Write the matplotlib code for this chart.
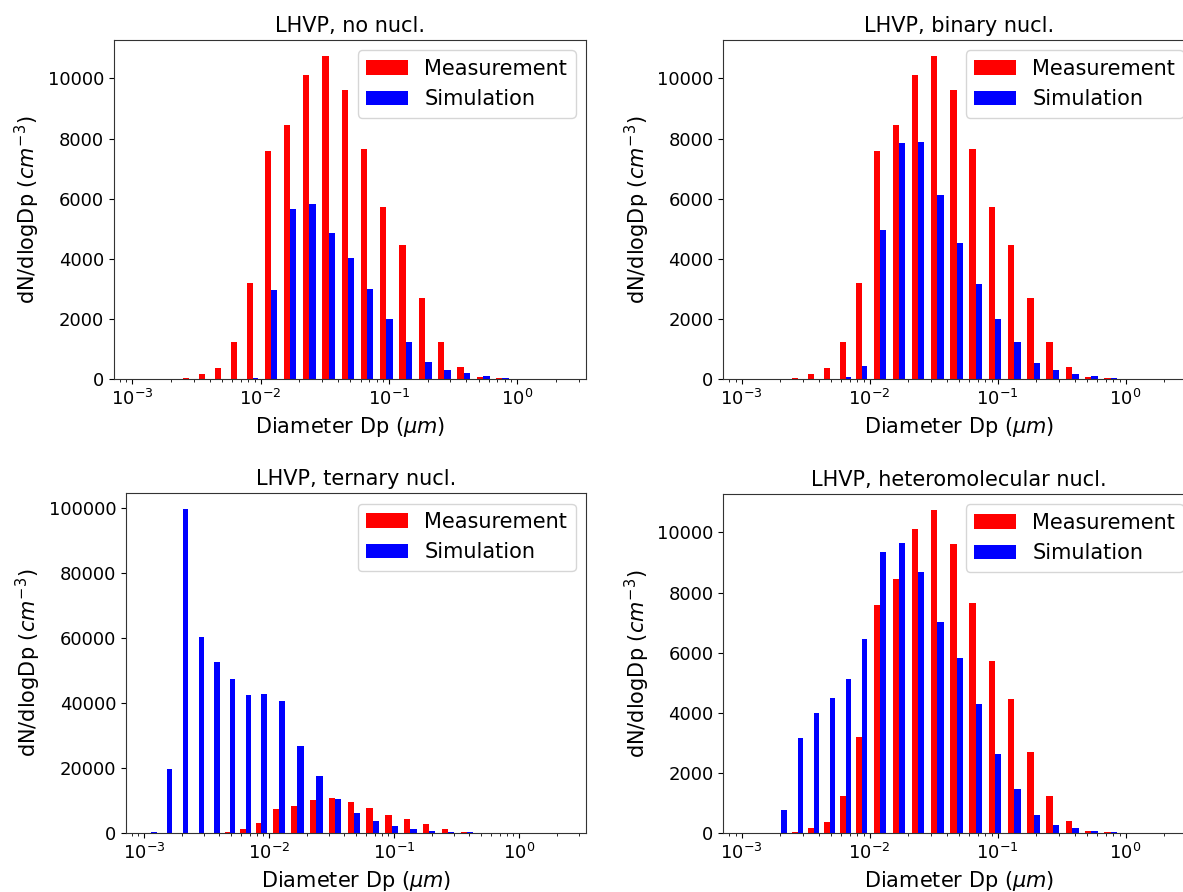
import numpy as np
import matplotlib
matplotlib.use("Agg")
import matplotlib.pyplot as plt

# Bin diameters (um): boundary between measurement (red) and simulation (blue) bar
diameters = [0.00115, 0.00153, 0.00204, 0.00274, 0.00366, 0.00489, 0.00650, 0.00869,
             0.0121, 0.0169, 0.0239, 0.0338, 0.0479, 0.0675, 0.0955, 0.135, 0.191,
             0.270, 0.383, 0.541, 0.766, 1.08, 1.53, 2.16]

measurement = [0, 0, 0, 30, 165, 387, 1227, 3193, 7602, 8442, 10110, 10740, 9602,
               7669, 5724, 4475, 2718, 1249, 409, 88, 33, 0, 0, 0]

sim_no_nucl = [0, 0, 0, 0, 0, 0, 0, 30, 2972, 5669, 5812, 4851, 4033, 3006, 2000,
               1227, 575, 320, 199, 99, 44, 0, 0, 0]
sim_binary = [0, 0, 0, 0, 0, 0, 66, 442, 4950, 7845, 7890, 6133, 4541, 3160, 2000,
              1227, 541, 320, 188, 99, 33, 0, 0, 0]
sim_ternary = [513, 19692, 99590, 60410, 52820, 47380, 42670, 42970, 40615, 26970,
               17640, 10460, 6150, 3790, 2360, 1436, 615, 410, 308, 60, 20, 0, 0, 0]
sim_hetero = [0, 0, 773, 3160, 4011, 4508, 5127, 6442, 9359, 9635, 8696, 7039, 5812,
              4287, 2652, 1470, 597, 287, 166, 88, 44, 0, 0, 0]

titles = ["LHVP, no nucl.", "LHVP, binary nucl.", "LHVP, ternary nucl.",
          "LHVP, heteromolecular nucl."]
simulations = [sim_no_nucl, sim_binary, sim_ternary, sim_hetero]

W, H = 1183, 892
fig = plt.figure(figsize=(W / 100, H / 100), dpi=100)

# axes boxes in pixels: left, top, right, bottom
boxes = [(114, 40, 586, 379.3),
         (723.3, 40, 1194, 379.3),
         (126, 493.3, 586, 833.3),
         (723.3, 494, 1194, 833.3)]

D = np.array(diameters)
logD = np.log10(D)
spacing = np.diff(logD)
step = np.concatenate([[spacing[0]], spacing])
wlog = step / 3.0
w_red = D - D * 10 ** (-wlog)
w_blue = D * 10 ** (wlog) - D

for i, (title, sim) in enumerate(zip(titles, simulations)):
    l, t, r, b = boxes[i]
    ax = fig.add_axes([l / W, 1 - b / H, (r - l) / W, (b - t) / H])
    ax.bar(D, measurement, width=-w_red, align='edge', color='red', label='Measurement')
    ax.bar(D, sim, width=w_blue, align='edge', color='blue', label='Simulation')
    ax.set_xscale('log')
    ax.set_xlim(10 ** -3.143, 10 ** 0.535)
    ax.set_title(title, fontsize=15)
    ax.set_xlabel(r'Diameter Dp ($\mu m$)', fontsize=15)
    ax.set_ylabel(r'dN/dlogDp ($cm^{-3}$)', fontsize=15)
    ax.tick_params(axis='both', which='major', labelsize=13)
    ax.legend(loc='upper right', fontsize=15)
    for s in ax.spines.values():
        s.set_edgecolor('#333333')

fig.savefig('out.png', dpi=100)
